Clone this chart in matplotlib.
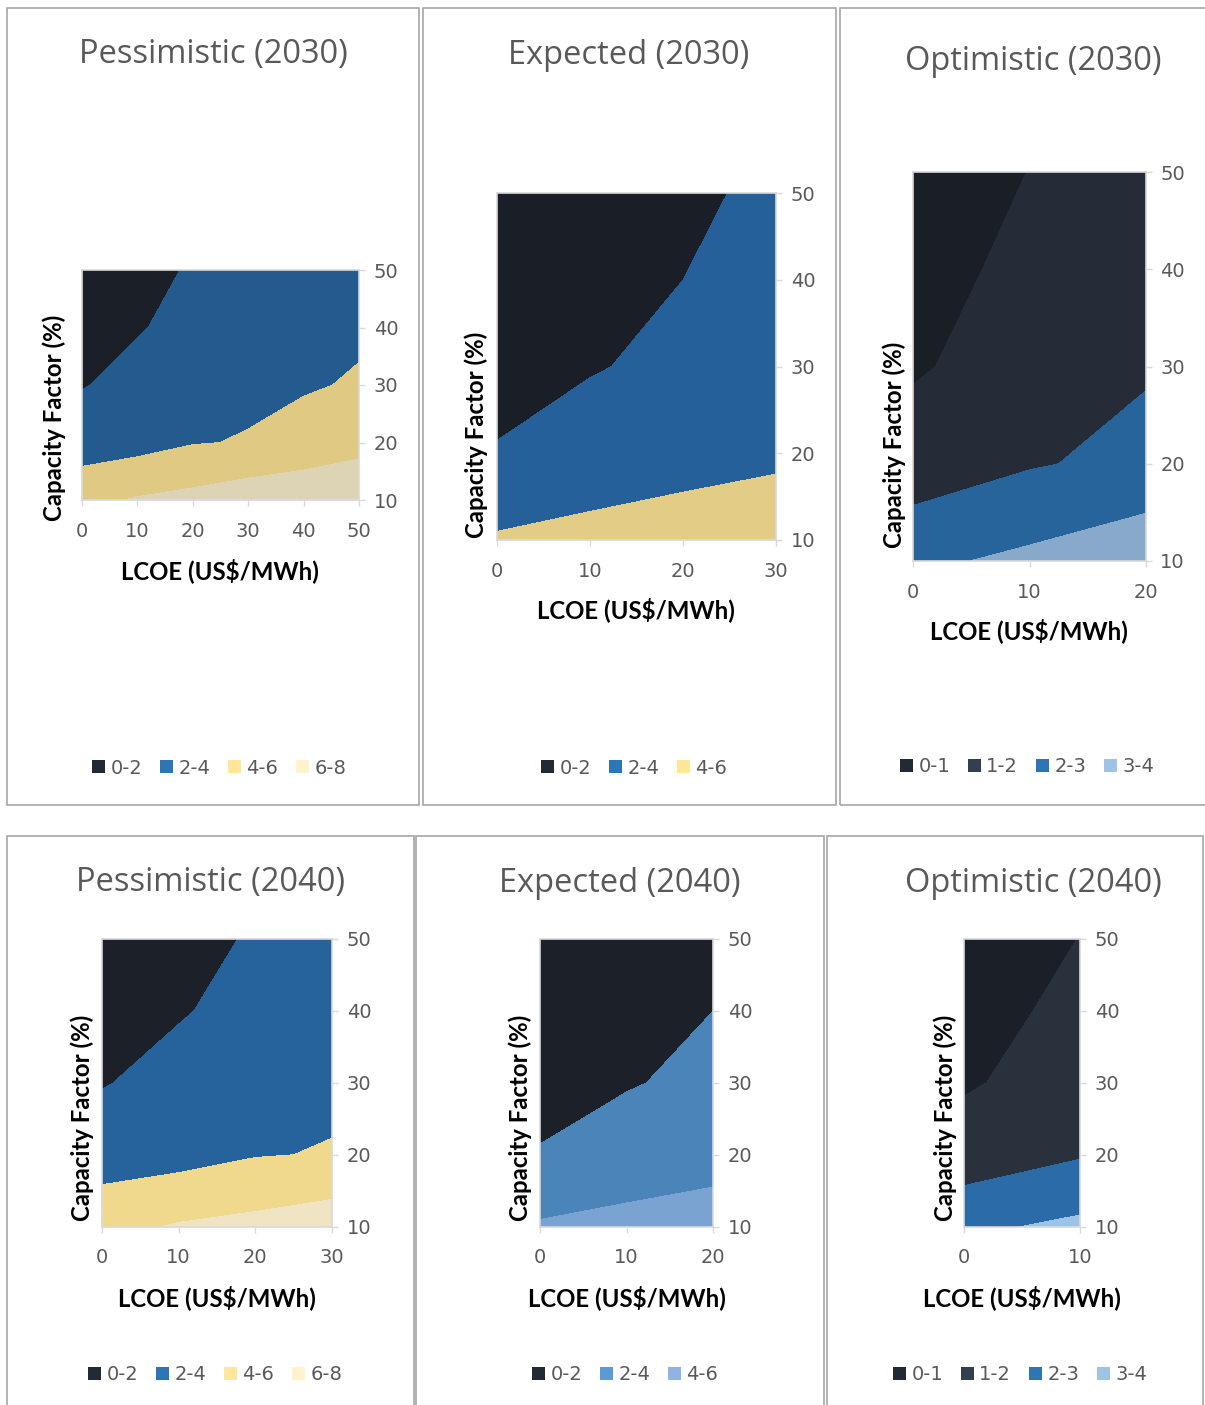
#!/usr/bin/env python3
"""Contour maps of payback vs LCOE and capacity factor, six scenarios."""

import matplotlib
matplotlib.use('Agg')
import matplotlib.pyplot as plt
from matplotlib.patches import Patch, Rectangle

W, H = 1205, 1405

# ============================================================
# Data (grid values)
# rows = capacity factor 10..50 %, cols = LCOE points
# ============================================================

cap_factor = [10, 20, 30, 40, 50]

lcoe_pess_2030 = [0, 10, 20, 30, 40, 50]
z_pess_2030 = [
    [5.40, 6.17, 6.56, 7.16, 7.19, 7.50],
    [3.00, 3.28, 3.90, 4.10, 4.90, 5.40],
    [1.90, 2.57, 3.10, 3.67, 3.78, 4.20],
    [1.45, 1.87, 2.52, 3.00, 3.30, 3.69],
    [1.15, 1.50, 2.15, 2.50, 2.80, 3.10],
]

lcoe_exp_2030 = [0, 10, 20, 30]
z_exp_2030 = [
    [4.21, 4.54, 4.86, 4.95],
    [2.10, 2.90, 3.30, 3.70],
    [1.43, 1.87, 2.44, 3.00],
    [1.10, 1.50, 2.00, 2.60],
    [0.90, 1.20, 1.70, 2.33],
]

lcoe_opt_2030 = [0, 10, 20]
z_opt_2030 = [
    [2.80, 3.21, 3.73],
    [1.40, 1.92, 2.24],
    [0.91, 1.38, 1.92],
    [0.78, 1.15, 1.60],
    [0.65, 1.01, 1.35],
]

lcoe_pess_2040 = [0, 10, 20, 30]
z_pess_2040 = [
    [5.40, 6.17, 6.56, 7.16],
    [3.00, 3.28, 3.90, 4.10],
    [1.90, 2.57, 3.10, 3.67],
    [1.45, 1.87, 2.52, 3.00],
    [1.15, 1.50, 2.15, 2.50],
]

lcoe_exp_2040 = [0, 10, 20]
z_exp_2040 = [
    [4.21, 4.54, 4.86],
    [2.10, 2.90, 3.30],
    [1.43, 1.87, 2.44],
    [1.10, 1.50, 2.00],
    [0.90, 1.20, 1.70],
]

lcoe_opt_2040 = [0, 10]
z_opt_2040 = [
    [2.80, 3.21],
    [1.40, 1.92],
    [0.91, 1.38],
    [0.78, 1.15],
    [0.65, 1.01],
]

levels_pess = [0, 2, 4, 6, 8]
labels_pess = ['0-2', '2-4', '4-6', '6-8']
levels_exp = [0, 2, 4, 6]
labels_exp = ['0-2', '2-4', '4-6']
levels_opt = [0, 1, 2, 3, 4]
labels_opt = ['0-1', '1-2', '2-3', '3-4']

# ============================================================
# Colors: fill (shaded surface) and legend swatch
# ============================================================

FILL_PESS = ['#1b2028', '#245b8f', '#e0c982', '#ddd4b6']
SW_PESS   = ['#222a35', '#2e75b6', '#ffe699', '#fff2cc']
FILL_PESS40 = ['#1c2129', '#26639c', '#f0d98c', '#efe4c4']
FILL_EXP  = ['#1a1f27', '#25609a', '#e3cd86']
SW_EXP    = ['#222a35', '#2e75b6', '#ffe699']
FILL_EXP40 = ['#1c2129', '#4a84b8', '#7aa3d2']
SW_EXP40  = ['#222a35', '#5b9bd5', '#8fb4e3']
FILL_OPT  = ['#1a1e25', '#252c37', '#27649c', '#88a9ca']
SW_OPT    = ['#222a35', '#333f50', '#2e75b6', '#9dc3e6']
FILL_OPT40 = ['#1b2028', '#29313d', '#2a6ba8', '#9dc3e6']

C_TITLE = '#595959'
C_TICK = '#595959'
C_GRID = '#d9d9d9'
C_BOX = '#a6a6a6'


def fx(x):
    return x / W


def fy(y):
    return 1 - y / H


fig = plt.figure(figsize=(W / 100, H / 100), dpi=100)

# panel frames (px): left, top, right, bottom
boxes = [(7, 8, 419, 805), (423, 8, 836, 805), (840, 8, 1212, 805),
         (7, 836, 414, 1412), (416, 836, 824, 1412), (827, 836, 1203, 1412)]
for l, t, r, b in boxes:
    fig.add_artist(Rectangle((fx(l), fy(b)), (r - l) / W, (b - t) / H,
                             transform=fig.transFigure, fill=False,
                             edgecolor=C_BOX, lw=1.2))

panels = [
    dict(title='Pessimistic (2030)', x=lcoe_pess_2030, z=z_pess_2030,
         lev=levels_pess, lab=labels_pess, fill=FILL_PESS, sw=SW_PESS,
         area=(81.7, 270, 359, 500), t=(213, 55), yl=(54, 418), xl=(220, 571),
         leg=(219, 768)),
    dict(title='Expected (2030)', x=lcoe_exp_2030, z=z_exp_2030,
         lev=levels_exp, lab=labels_exp, fill=FILL_EXP, sw=SW_EXP,
         area=(497.3, 193.3, 776, 540), t=(629, 55), yl=(476, 435), xl=(636, 610),
         leg=(634, 768)),
    dict(title='Optimistic (2030)', x=lcoe_opt_2030, z=z_opt_2030,
         lev=levels_opt, lab=labels_opt, fill=FILL_OPT, sw=SW_OPT,
         area=(913.3, 172.3, 1145.7, 561), t=(1033, 61), yl=(894, 445), xl=(1029, 631),
         leg=(1027, 767)),
    dict(title='Pessimistic (2040)', x=lcoe_pess_2040, z=z_pess_2040,
         lev=levels_pess, lab=labels_pess, fill=FILL_PESS40, sw=SW_PESS,
         area=(101.7, 939, 332.3, 1226.7), t=(210, 883), yl=(82, 1118), xl=(217, 1298),
         leg=(215, 1375)),
    dict(title='Expected (2040)', x=lcoe_exp_2040, z=z_exp_2040,
         lev=levels_exp, lab=labels_exp, fill=FILL_EXP40, sw=SW_EXP40,
         area=(540, 939, 713.3, 1226.7), t=(620, 883), yl=(520, 1118), xl=(627, 1298),
         leg=(625, 1375)),
    dict(title='Optimistic (2040)', x=lcoe_opt_2040, z=z_opt_2040,
         lev=levels_opt, lab=labels_opt, fill=FILL_OPT40, sw=SW_OPT,
         area=(964.3, 939, 1080, 1226.7), t=(1033, 883), yl=(945, 1118), xl=(1022, 1298),
         leg=(1020, 1375)),
]

for p in panels:
    l, t, r, b = p['area']
    ax = fig.add_axes([fx(l), fy(b), (r - l) / W, (b - t) / H])
    ax.contourf(p['x'], cap_factor, p['z'], levels=p['lev'], colors=p['fill'])
    ax.set_xlim(p['x'][0], p['x'][-1])
    ax.set_ylim(10, 50)
    ax.set_xticks(p['x'])
    ax.set_yticks(cap_factor)
    ax.yaxis.tick_right()
    ax.tick_params(axis='x', length=4.5, width=1, color=C_GRID,
                   labelcolor=C_TICK, labelsize=14, pad=11)
    ax.tick_params(axis='y', length=4.5, width=1, color=C_GRID,
                   labelcolor=C_TICK, labelsize=14, pad=6)
    for s in ax.spines.values():
        s.set_color(C_GRID)
        s.set_linewidth(1.2)

    fig.text(fx(p['t'][0]), fy(p['t'][1]), p['title'], ha='center', va='center',
             fontsize=23.5, family='Open Sans', color=C_TITLE)
    fig.text(fx(p['yl'][0]), fy(p['yl'][1]), 'Capacity Factor (%)', ha='center',
             va='center', rotation=90, fontsize=17.3, family='Lato',
             fontweight='bold', color='black')
    fig.text(fx(p['xl'][0]), fy(p['xl'][1]), 'LCOE (US$/MWh)', ha='center',
             va='center', fontsize=17.3, family='Lato', fontweight='bold',
             color='black')

    handles = [Patch(facecolor=c, edgecolor='none') for c in p['sw']]
    fig.legend(handles, p['lab'], loc='center',
               bbox_to_anchor=(fx(p['leg'][0]), fy(p['leg'][1])),
               ncol=len(handles), frameon=False, fontsize=14,
               handlelength=0.68, handleheight=0.68, handletextpad=0.28,
               columnspacing=0.9, labelcolor=C_TICK, borderpad=0)

plt.savefig('out.png', dpi=100)
print('Saved out.png')
